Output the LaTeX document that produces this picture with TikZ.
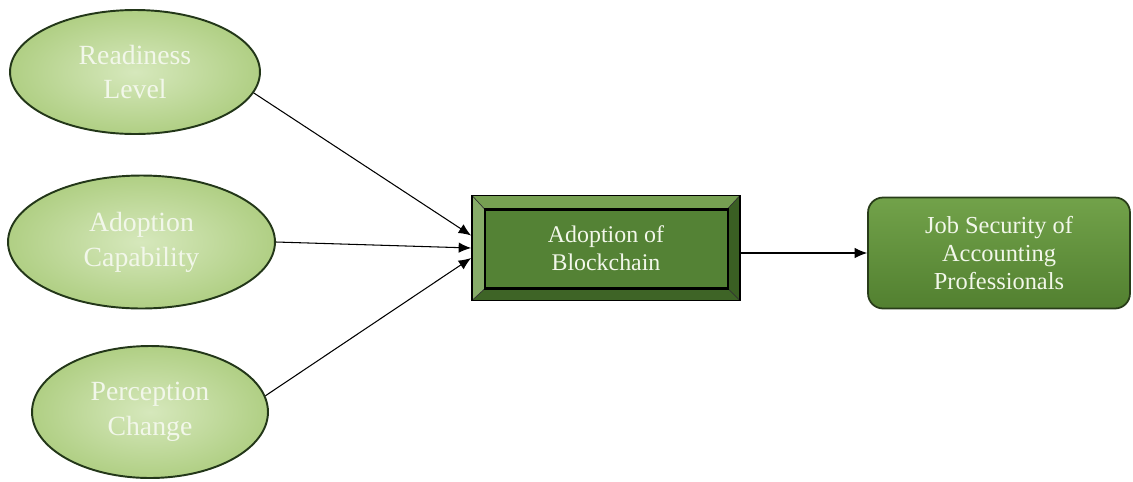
\documentclass[tikz,border=0pt]{standalone}
\usepackage{fontspec}
\setmainfont{Liberation Serif}
\usepackage{xcolor}
\usepackage{tikz}
\usetikzlibrary{shapes.geometric, arrows.meta, positioning}

\definecolor{ellout}{RGB}{176,207,132}
\definecolor{ellin}{RGB}{214,232,188}
\definecolor{ellline}{RGB}{35,55,25}
\definecolor{txtlight}{RGB}{242,247,234}
\definecolor{boxgreen}{RGB}{84,130,53}
\definecolor{bevtop}{RGB}{118,160,82}
\definecolor{bevleft}{RGB}{135,172,105}
\definecolor{bevright}{RGB}{58,95,35}
\definecolor{bevbottom}{RGB}{62,100,38}
\definecolor{jobtop}{RGB}{114,162,74}
\definecolor{jobbottom}{RGB}{82,128,48}
\definecolor{jobline}{RGB}{40,60,25}

\begin{document}
\begin{tikzpicture}[
    x=0.02cm, y=-0.02cm,
    factor/.style={ellipse, draw=ellline, line width=1.1pt, inner color=ellin, outer color=ellout, inner sep=0pt, text=txtlight, align=center, font=\fontsize{15.8}{19.8}\selectfont},
    bevelbox/.style={rectangle, draw=black, line width=1pt, fill=boxgreen, minimum width=5.36cm, minimum height=2.1cm, text=txtlight, align=center, font=\fontsize{13.6}{16}\selectfont,
        path picture={
            \fill[bevtop] (path picture bounding box.north west) -- (path picture bounding box.north east) -- ([shift={(-0.26cm,-0.28cm)}]path picture bounding box.north east) -- ([shift={(0.26cm,-0.28cm)}]path picture bounding box.north west) -- cycle;
            \fill[bevbottom] (path picture bounding box.south west) -- (path picture bounding box.south east) -- ([shift={(-0.24cm,0.24cm)}]path picture bounding box.south east) -- ([shift={(0.26cm,0.24cm)}]path picture bounding box.south west) -- cycle;
            \fill[bevleft] (path picture bounding box.north west) -- (path picture bounding box.south west) -- ([shift={(0.26cm,0.24cm)}]path picture bounding box.south west) -- ([shift={(0.26cm,-0.28cm)}]path picture bounding box.north west) -- cycle;
            \fill[bevright] (path picture bounding box.north east) -- (path picture bounding box.south east) -- ([shift={(-0.24cm,0.24cm)}]path picture bounding box.south east) -- ([shift={(-0.26cm,-0.28cm)}]path picture bounding box.north east) -- cycle;
            \draw[black!80, line width=0.4pt] (path picture bounding box.north west) -- ([shift={(0.26cm,-0.28cm)}]path picture bounding box.north west)
                (path picture bounding box.north east) -- ([shift={(-0.26cm,-0.28cm)}]path picture bounding box.north east)
                (path picture bounding box.south west) -- ([shift={(0.26cm,0.24cm)}]path picture bounding box.south west)
                (path picture bounding box.south east) -- ([shift={(-0.24cm,0.24cm)}]path picture bounding box.south east);
            \draw[black, line width=1.2pt] ([shift={(0.26cm,-0.28cm)}]path picture bounding box.north west) rectangle ([shift={(-0.24cm,0.24cm)}]path picture bounding box.south east);
        }},
    outcome/.style={rectangle, rounded corners=0.3cm, draw=jobline, line width=1pt, top color=jobtop, bottom color=jobbottom, minimum width=5.24cm, minimum height=2.22cm, text=txtlight, align=center, font=\fontsize{13.9}{16}\selectfont},
    arrow/.style={line width=0.6pt, -{Latex[length=0.25cm, width=0.21cm]}}
]
\useasboundingbox (0,0) rectangle (1133,481);

% Nodes
\node (ready) [factor, minimum width=5.0cm, minimum height=2.48cm] at (135,72) {Readiness\\Level};
\node (capab) [factor, minimum width=5.34cm, minimum height=2.66cm] at (141.5,242) {Adoption\\Capability};
\node (percep) [factor, minimum width=4.72cm, minimum height=2.64cm] at (150,412) {Perception\\Change};
\node (adopt) [bevelbox] at (606,248) {Adoption of\\Blockchain};
\node (job) [outcome] at (999,253) {Job Security of\\Accounting\\Professionals};

% Arrows
\draw [arrow] (ready.-10) -- ([yshift=0.25cm]adopt.west);
\draw [arrow] (capab.east) -- (adopt.west);
\draw [arrow] (percep.8) -- ([yshift=-0.2cm]adopt.west);
\draw [arrow] (adopt.east |- job.west) -- (job.west);

\end{tikzpicture}
\end{document}
